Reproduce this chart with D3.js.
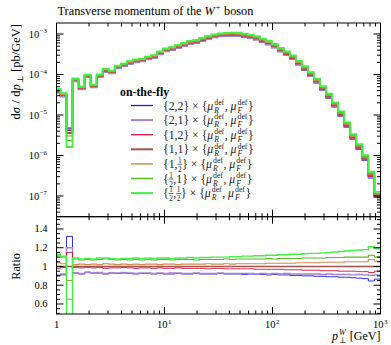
<!DOCTYPE html>
<html lang="en">
<head>
<meta charset="UTF-8" />
<title>Transverse momentum of the W+ boson</title>
<script src="https://d3js.org/d3.v7.min.js"></script>
<style>
  * { margin: 0; padding: 0; }
  body { background: #fff; width: 391px; height: 345px; overflow: hidden; }
  svg { display: block; font-family: 'Liberation Serif', 'DejaVu Serif', serif; }
  text { white-space: pre; }
</style>
</head>
<body>
<svg id="chart" width="391" height="345"></svg>
<script>
// log-uniform binning in pT [GeV]
const logBinStart = -0.0194, logBinWidth = 0.0559, nBins = 54;
const binEdges = d3.range(nBins + 1).map(k => Math.pow(10, logBinStart + k * logBinWidth));

// central prediction {1,1} x {muR, muF}, dsigma/dpT [pb/GeV]
const xsec11 = [
  3.92e-5, 3.12e-5, 3.6e-6, 7.31e-5, 4.64e-5, 9.18e-5, 5.2e-5, 9.2e-5, 1.26e-4, 1.15e-4,
  1.53e-4, 1.72e-4, 1.98e-4, 2.16e-4, 2.28e-4, 2.55e-4, 2.78e-4, 3.4e-4, 4.03e-4, 4.39e-4,
  4.91e-4, 5.5e-4, 6.17e-4, 6.53e-4, 7.31e-4, 8.2e-4, 8.93e-4, 9.45e-4, 9.72e-4, 9.8e-4,
  9.72e-4, 9.18e-4, 8.67e-4, 7.96e-4, 6.91e-4, 6.0e-4, 5.06e-4, 4.03e-4, 3.3e-4, 2.63e-4,
  1.92e-4, 1.41e-4, 1.0e-4, 6.92e-5, 4.51e-5, 2.94e-5, 1.77e-5, 1.06e-5, 5.66e-6, 2.86e-6,
  1.62e-6, 8.67e-7, 3.3e-7, 1.06e-7
];

// ratios of each scale choice to {1,1}
const ratio22 = [
  0.90, 0.91, 1.32, 0.93, 0.92, 0.94, 0.93, 0.93, 0.92, 0.93,
  0.925, 0.93, 0.925, 0.92, 0.925, 0.925, 0.92, 0.925, 0.92, 0.92,
  0.925, 0.92, 0.92, 0.925, 0.92, 0.92, 0.92, 0.925, 0.92, 0.92,
  0.92, 0.915, 0.92, 0.915, 0.915, 0.91, 0.915, 0.91, 0.91, 0.905,
  0.905, 0.90, 0.90, 0.895, 0.895, 0.89, 0.89, 0.885, 0.885, 0.88,
  0.875, 0.87, 0.845, 0.865
];
const ratio21 = [
  0.91, 0.92, 1.20, 0.93, 0.925, 0.935, 0.93, 0.935, 0.925, 0.93,
  0.93, 0.935, 0.93, 0.925, 0.93, 0.93, 0.925, 0.93, 0.925, 0.93,
  0.93, 0.925, 0.925, 0.93, 0.925, 0.925, 0.925, 0.93, 0.925, 0.925,
  0.925, 0.925, 0.925, 0.92, 0.925, 0.92, 0.925, 0.92, 0.925, 0.92,
  0.92, 0.92, 0.92, 0.92, 0.915, 0.92, 0.915, 0.915, 0.915, 0.91,
  0.915, 0.91, 0.905, 0.91
];
const ratio12 = [
  0.98, 0.99, 1.15, 0.99, 0.985, 0.99, 0.985, 0.99, 0.98, 0.985,
  0.985, 0.99, 0.985, 0.98, 0.985, 0.985, 0.98, 0.985, 0.98, 0.98,
  0.985, 0.98, 0.98, 0.98, 0.98, 0.975, 0.98, 0.98, 0.975, 0.975,
  0.975, 0.975, 0.975, 0.97, 0.97, 0.97, 0.97, 0.97, 0.965, 0.965,
  0.965, 0.96, 0.96, 0.96, 0.955, 0.955, 0.955, 0.95, 0.95, 0.95,
  0.945, 0.945, 0.935, 0.95
];
const ratio11 = xsec11.map(() => 1);
const ratio1h = [
  1.04, 1.03, 0.85, 1.02, 1.025, 1.02, 1.025, 1.02, 1.03, 1.025,
  1.02, 1.025, 1.02, 1.025, 1.02, 1.025, 1.025, 1.02, 1.025, 1.025,
  1.02, 1.025, 1.025, 1.025, 1.025, 1.03, 1.025, 1.025, 1.03, 1.025,
  1.03, 1.03, 1.03, 1.03, 1.03, 1.035, 1.035, 1.035, 1.035, 1.035,
  1.04, 1.04, 1.04, 1.04, 1.045, 1.045, 1.045, 1.045, 1.05, 1.05,
  1.05, 1.05, 1.075, 1.055
];
const ratioh1 = [
  1.12, 1.10, 0.65, 1.08, 1.07, 1.075, 1.07, 1.075, 1.08, 1.075,
  1.07, 1.075, 1.07, 1.075, 1.07, 1.075, 1.07, 1.075, 1.075, 1.07,
  1.075, 1.075, 1.075, 1.07, 1.075, 1.075, 1.075, 1.075, 1.08, 1.075,
  1.08, 1.08, 1.08, 1.08, 1.08, 1.085, 1.08, 1.085, 1.085, 1.085,
  1.085, 1.09, 1.09, 1.09, 1.09, 1.095, 1.095, 1.095, 1.10, 1.10,
  1.10, 1.10, 1.12, 1.10
];
const ratiohh = [
  1.13, 1.11, 0.45, 1.09, 1.08, 1.085, 1.08, 1.09, 1.09, 1.085,
  1.08, 1.085, 1.085, 1.09, 1.085, 1.09, 1.085, 1.09, 1.09, 1.085,
  1.09, 1.09, 1.095, 1.09, 1.095, 1.095, 1.10, 1.10, 1.10, 1.105,
  1.105, 1.11, 1.11, 1.115, 1.115, 1.12, 1.12, 1.125, 1.125, 1.13,
  1.13, 1.135, 1.14, 1.14, 1.145, 1.15, 1.155, 1.16, 1.165, 1.17,
  1.175, 1.18, 1.21, 1.19
];

// scale factors {muR, muF} for the legend
const scaleFactors = [['2', '2'], ['2', '1'], ['1', '2'], ['1', '1'], ['1', '1/2'], ['1/2', '1'], ['1/2', '1/2']];
const ratios = [ratio22, ratio21, ratio12, ratio11, ratio1h, ratioh1, ratiohh];
const colors = ['#1c1ce0', '#a880d4', '#d4143c', '#a45450', '#d48a4c', '#5cbc24', '#44f044'];
const widths = [1.3, 2, 1.3, 2, 1.5, 1.5, 2];

const mainTicks = [1e-7, 1e-6, 1e-5, 1e-4, 1e-3];
const ratioTicks = [0.6, 0.8, 1.0, 1.2, 1.4];
const xTicks = [1, 10, 100, 1000];

const svg = d3.select('#chart');
const X0 = 56.5, X1 = 380.5, YT = 23, YM = 216.7, YB = 314;
const x = d3.scaleLog().domain([1, 1000]).range([X0, X1]);
const y = d3.scaleLog().domain([Math.pow(10, -7.511), Math.pow(10, -2.728)]).range([YM, YT]);
const yr = d3.scaleLinear().domain([0.493, 1.531]).range([YB, YM]);

const defs = svg.append('defs');
defs.append('clipPath').attr('id', 'clipMain').append('rect')
  .attr('x', X0).attr('y', YT).attr('width', X1 - X0).attr('height', YM - YT);
defs.append('clipPath').attr('id', 'clipRatio').append('rect')
  .attr('x', X0).attr('y', YM).attr('width', X1 - X0).attr('height', YB - YM);

function stepPoints(vals) {
  const p = vals.map((v, i) => [binEdges[i], v]);
  p.push([binEdges[vals.length], vals[vals.length - 1]]);
  return p;
}
const lineMain = d3.line().x(d => x(d[0])).y(d => y(d[1])).curve(d3.curveStepAfter);
const lineRatio = d3.line().x(d => x(d[0])).y(d => yr(d[1])).curve(d3.curveStepAfter);

const gMain = svg.append('g').attr('clip-path', 'url(#clipMain)');
const gRatio = svg.append('g').attr('clip-path', 'url(#clipRatio)');
ratios.forEach((r, s) => {
  const vals = xsec11.map((v, i) => v * r[i]);
  gMain.append('path').attr('d', lineMain(stepPoints(vals)))
    .attr('fill', 'none').attr('stroke', colors[s]).attr('stroke-width', widths[s] * 0.9);
  gRatio.append('path').attr('d', lineRatio(stepPoints(r)))
    .attr('fill', 'none').attr('stroke', colors[s]).attr('stroke-width', widths[s] * 0.7);
});

// frames and ticks
const axes = svg.append('g').attr('stroke', '#000').attr('stroke-width', 1).attr('fill', 'none');
axes.append('rect').attr('x', X0).attr('y', YT).attr('width', X1 - X0).attr('height', YM - YT);
axes.append('rect').attr('x', X0).attr('y', YM).attr('width', X1 - X0).attr('height', YB - YM);

function hTick(yy, len) {
  axes.append('line').attr('x1', X0).attr('x2', X0 + len).attr('y1', yy).attr('y2', yy);
  axes.append('line').attr('x1', X1).attr('x2', X1 - len).attr('y1', yy).attr('y2', yy);
}
function vTick(xx, len) {
  axes.append('line').attr('x1', xx).attr('x2', xx).attr('y1', YT).attr('y2', YT + len);
  axes.append('line').attr('x1', xx).attr('x2', xx).attr('y1', YM - len).attr('y2', YM + len);
  axes.append('line').attr('x1', xx).attr('x2', xx).attr('y1', YB).attr('y2', YB - len);
}
d3.range(-8, -2).forEach(d => {
  d3.range(1, 10).forEach(m => {
    const v = m * Math.pow(10, d);
    if (v < y.domain()[0] || v > y.domain()[1]) return;
    hTick(y(v), m === 1 ? 7 : 3.5);
  });
});
d3.range(0.5, 1.53, 0.05).forEach(v => {
  const major = ratioTicks.some(t => Math.abs(t - v) < 1e-6);
  hTick(yr(v), major ? 7 : 3.5);
});
d3.range(0, 3).forEach(d => {
  d3.range(1, 10).forEach(m => {
    const v = m * Math.pow(10, d);
    if (v <= 1 || v >= 1000) return;
    vTick(x(v), m === 1 ? 7 : 3.5);
  });
});

// rich text: pieces laid out left to right, returns group and width
function rich(parent, pieces, size, opts = {}) {
  const g = parent.append('g');
  let cx = 0;
  const put = (t, px, py, fs, italic) => {
    const el = g.append('text').attr('x', px).attr('y', py).attr('font-size', fs)
      .attr('fill', opts.fill || '#000').text(t);
    if (italic) el.attr('font-style', 'italic');
    if (opts.bold) el.attr('font-weight', 'bold');
    return [el, el.node().getComputedTextLength()];
  };
  pieces.forEach(p => {
    if (typeof p === 'string') {
      cx += put(p, cx, 0, size)[1];
    } else if (p.i) {
      cx += put(p.i, cx, 0, size, true)[1] + 0.5;
    } else if (p.num) {
      const fs = size * 0.62;
      const [a, wa] = put(p.num, cx, -size * 0.42, fs);
      const [b, wb] = put(p.den, cx, size * 0.36, fs);
      const w = Math.max(wa, wb) + 1;
      a.attr('x', cx + (w - wa) / 2);
      b.attr('x', cx + (w - wb) / 2);
      g.append('line').attr('x1', cx).attr('x2', cx + w)
        .attr('y1', -size * 0.3).attr('y2', -size * 0.3)
        .attr('stroke', opts.fill || '#000').attr('stroke-width', 0.7);
      cx += w;
    } else {
      const fs = size * 0.66;
      let w = 0;
      if (p.sup) w = Math.max(w, put(p.sup, cx + 0.5, -size * 0.4, fs, p.supi)[1]);
      if (p.sub) w = Math.max(w, put(p.sub, cx + 0.5, size * 0.26, fs, p.subi)[1]);
      cx += w + 1;
    }
  });
  return { g, w: cx };
}
function place(r, px, py, anchor) {
  const dx = anchor === 'end' ? -r.w : anchor === 'middle' ? -r.w / 2 : 0;
  r.g.attr('transform', `translate(${px + dx},${py})`);
}

// title
place(rich(svg, ['Transverse momentum of the ', { i: 'W' }, { sup: '+' }, ' boson'], 12.3), X0 + 1, 15, 'start');

// y tick labels
mainTicks.forEach(t => {
  const e = Math.round(Math.log10(t));
  place(rich(svg, ['10', { sup: '\u2212' + (-e) }], 10.5), X0 - 9, y(t) + 3.5, 'end');
});
ratioTicks.forEach(t => {
  place(rich(svg, [t === 1 ? '1' : String(t)], 10.5), X0 - 9, yr(t) + 3.5, 'end');
});
// x tick labels
xTicks.forEach(t => {
  const e = Math.round(Math.log10(t));
  const pieces = e === 0 ? ['1'] : ['10', { sup: String(e) }];
  place(rich(svg, pieces, 10.5), x(t), YB + 14, 'middle');
});

// axis labels
place(rich(svg, [{ i: 'p' }, { sup: 'W', supi: true, sub: '\u22a5' }, ' [GeV]'], 12), X1, 340, 'end');
const yl = rich(svg, ['d', { i: '\u03c3' }, ' / d', { i: 'p' }, { sub: '\u22a5' }, ' [pb/GeV]'], 12.5);
yl.g.attr('transform', `translate(20,${YT + 1 + yl.w}) rotate(-90)`);
const rl = rich(svg, ['Ratio'], 12.3);
rl.g.attr('transform', `translate(20,${yr(1) + rl.w / 2}) rotate(-90)`);

// legend
const legend = svg.append('g');
place(rich(legend, ['on-the-fly'], 11.8, { bold: true }), 120, 96, 'start');
const fracOf = s => s === '1/2' ? { num: '1', den: '2' } : s;
scaleFactors.forEach((f, s) => {
  const ly = 105.5 + s * 14.6;
  legend.append('line').attr('x1', 131).attr('x2', 153).attr('y1', ly).attr('y2', ly)
    .attr('stroke', colors[s]).attr('stroke-width', widths[s]);
  const pieces = ['{', fracOf(f[0]), ',', fracOf(f[1]), '} \u00d7 {', { i: '\u03bc' },
    { sup: 'def', sub: 'R', subi: true }, ', ', { i: '\u03bc' }, { sup: 'def', sub: 'F', subi: true }, '}'];
  place(rich(legend, pieces, 11.8, { fill: '#222' }), 163, ly + 4, 'start');
});
</script>
</body>
</html>
